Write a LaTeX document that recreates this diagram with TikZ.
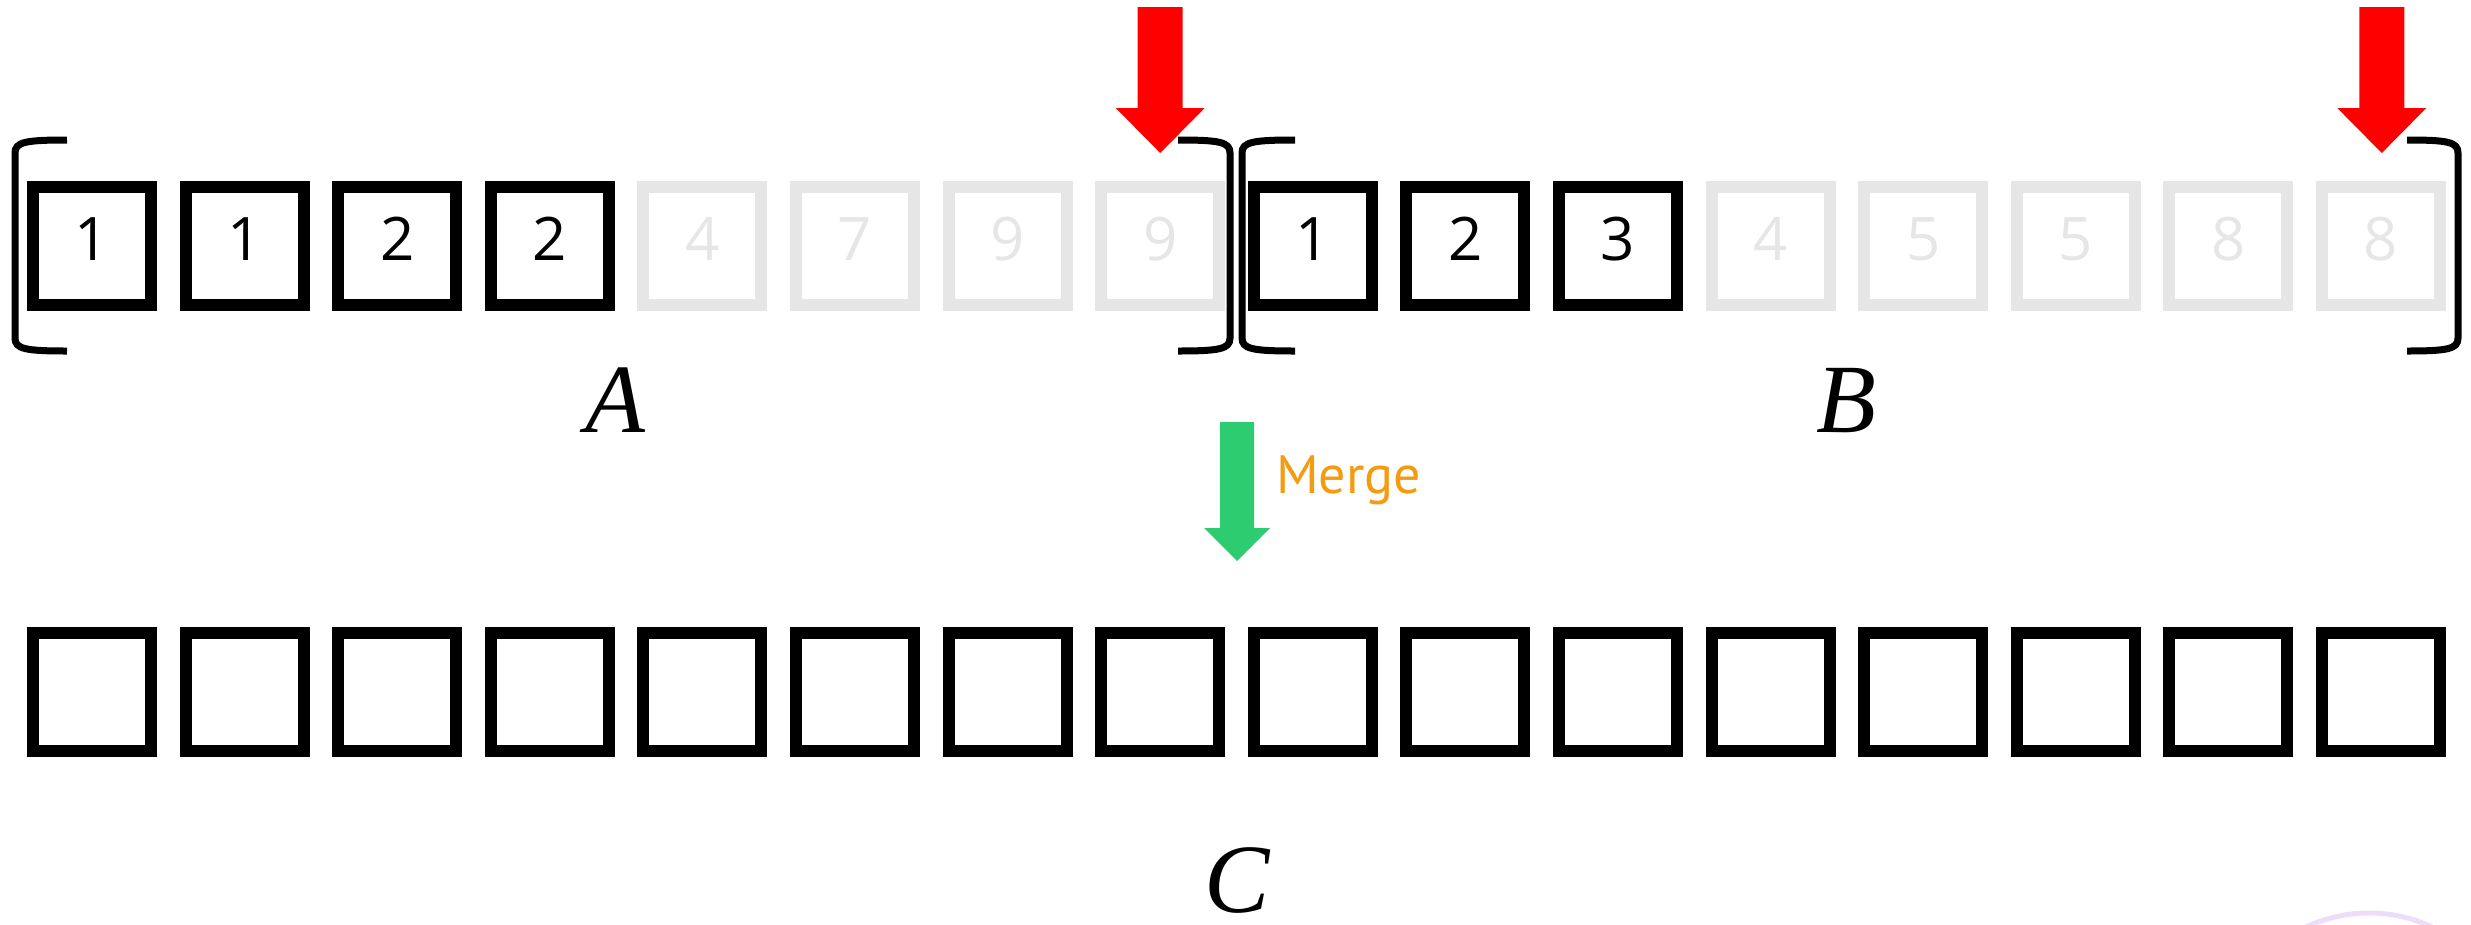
\documentclass[tikz,border=0pt]{standalone}
\usepackage{fontspec}
\newfontfamily\digitfont{Open Sans}
\newfontfamily\mergefont{PT Sans}
\newfontfamily\labelfont{Liberation Serif}
\definecolor{cellgray}{HTML}{E6E6E6}
\definecolor{mergegreen}{HTML}{2ECC71}
\definecolor{mergeorange}{HTML}{F39C12}
\definecolor{wmpurple}{HTML}{EEDDF8}
\newcommand\brkt[2]{\draw[brk] (#2,140) .. controls ({#1+0.2*(#2-#1)},140) and (#1,142) .. (#1,153) -- (#1,338) .. controls (#1,349) and ({#1+0.2*(#2-#1)},351) .. (#2,351);}
\begin{document}
\begin{tikzpicture}[x=1pt,y=-1pt,
  cell/.style={draw=black, line width=12pt, minimum width=118pt, minimum height=118pt,
    inner sep=0pt, font=\digitfont\fontsize{60}{72}\selectfont, text height=43pt, text depth=15pt},
  on/.style={},
  dim/.style={draw=cellgray, text=cellgray},
  brk/.style={line width=7pt, line cap=butt},
  lbl/.style={font=\labelfont\itshape\fontsize{98}{110}\selectfont, inner sep=0pt, anchor=base}]
\useasboundingbox (0,0) rectangle (2471,924);
% array A
\foreach \v/\s [count=\i] in {1/on,1/on,2/on,2/on,4/dim,7/dim,9/dim,9/dim}
  \node[cell,\s] (a\i) at ({92+(\i-1)*152.6},246) {\v};
% array B
\foreach \v/\s [count=\i] in {1/on,2/on,3/on,4/dim,5/dim,5/dim,8/dim,8/dim}
  \node[cell,\s] (b\i) at ({92+(\i+7)*152.6},246) {\v};
% array C
\foreach \i in {1,...,16}
  \node[cell] (c\i) at ({92+(\i-1)*152.6},691.5) {};
% brackets
\brkt{15}{67}
\brkt{1230}{1178}
\brkt{1242}{1295}
\brkt{2458}{2407}
% labels
\node[lbl] (labA) at (615,432) {A};
\node[lbl] (labB) at (1846,432) {B};
\node[lbl] (labC) at (1237,912) {C};
% red pointer arrows
\coordinate (tipA) at (1160.2,153);
\coordinate (tipB) at (2381.8,153);
\foreach \t in {tipA,tipB}
  \fill[red] (\t) -- ++(44.5,-45) -- ++(-22,0) -- ++(0,-101) -- ++(-45,0) -- ++(0,101) -- ++(-22,0) -- cycle;
% merge arrow
\coordinate (tipM) at (1237,561);
\fill[mergegreen] (tipM) -- ++(33,-33) -- ++(-16,0) -- ++(0,-106) -- ++(-34,0) -- ++(0,106) -- ++(-16,0) -- cycle;
\node[font=\mergefont\fontsize{54}{60}\selectfont, text=mergeorange, anchor=base west, inner sep=0pt] (merge) at (1276,493) {Merge};
% faint watermark arc
\begin{scope}
\clip (0,0) rectangle (2471,924);
\draw[wmpurple, line width=5pt] (2369,1061) circle (148);
\end{scope}
\end{tikzpicture}
\end{document}
